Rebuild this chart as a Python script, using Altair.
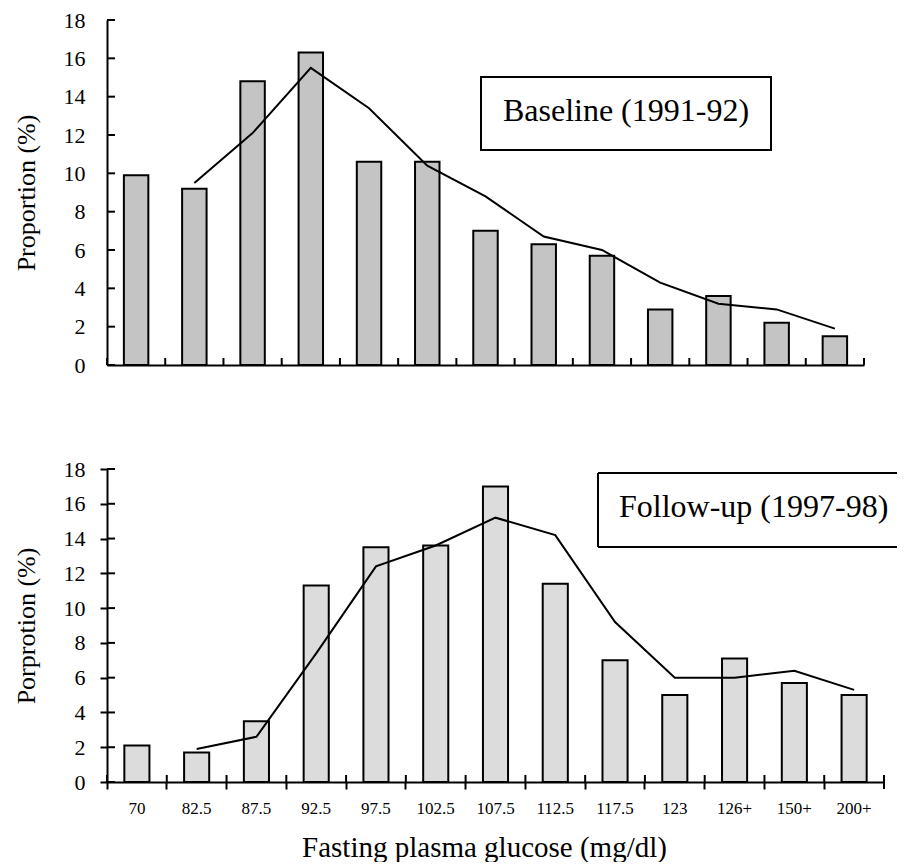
import altair as alt
import pandas as pd

# ---- data ----
categories = ["70", "82.5", "87.5", "92.5", "97.5", "102.5", "107.5",
              "112.5", "117.5", "123", "126+", "150+", "200+"]
baseline = [9.9, 9.2, 14.8, 16.3, 10.6, 10.6, 7.0, 6.3, 5.7, 2.9, 3.6, 2.2, 1.5]
baseline_trend = [9.5, 12.1, 15.5, 13.4, 10.4, 8.8, 6.7, 6.0, 4.3, 3.2, 2.9, 1.9]
followup = [2.1, 1.7, 3.5, 11.3, 13.5, 13.6, 17.0, 11.4, 7.0, 5.0, 7.1, 5.7, 5.0]
followup_trend = [1.9, 2.6, 7.4, 12.4, 13.6, 15.2, 14.2, 9.2, 6.0, 6.0, 6.4, 5.3]
y_ticks = [0, 2, 4, 6, 8, 10, 12, 14, 16, 18]
top_label = "Baseline (1991-92)"
bottom_label = "Follow-up (1997-98)"
x_title = "Fasting plasma glucose (mg/dl)"

FONT = "Liberation Serif"

base_df = pd.DataFrame({"cat": categories, "val": baseline})
base_tr = pd.DataFrame({"cat": categories[1:], "val": baseline_trend})
fol_df = pd.DataFrame({"cat": categories, "val": followup})
fol_tr = pd.DataFrame({"cat": categories[1:], "val": followup_trend})
ytick_df = pd.DataFrame({"val": y_ticks})
last_df = pd.DataFrame({"cat": [categories[-1]]})

xscale = alt.Scale(domain=categories, paddingInner=0, paddingOuter=0)
yscale = alt.Scale(domain=[0, 18], nice=False)


def y_axis(title, ticks):
    return alt.Axis(title=title, values=y_ticks, grid=False, ticks=ticks, tickSize=7,
                    labelPadding=15 if ticks else 22, titlePadding=24, labelFontSize=22,
                    titleFontSize=26, titleFontWeight="normal", labelOverlap=False,
                    labelFont=FONT, titleFont=FONT)


def x_axis(show_labels):
    if show_labels:
        return alt.Axis(title=x_title, bandPosition=0, tickSize=7, labelAngle=0,
                        labelPadding=11, labelFontSize=17, titleFontSize=29,
                        titleFontWeight="normal", titlePadding=17, titleX=377,
                        labelFont=FONT, titleFont=FONT, labelOverlap=False)
    return alt.Axis(title=None, labels=False, ticks=False)


def panel(df, tr, fill, ytitle, bottom, h):
    xa = x_axis(bottom)
    ya = y_axis(ytitle, bottom)

    def X(**kw):
        return alt.X("cat:N", sort=categories, scale=xscale, axis=xa, **kw)

    def Y():
        return alt.Y("val:Q", scale=yscale, axis=ya)

    bars = alt.Chart(df).mark_bar(
        width=alt.RelativeBandSize(0.42), fill=fill, stroke="black", strokeWidth=2
    ).encode(x=X(), y=Y())
    line = alt.Chart(tr).mark_line(color="black", strokeWidth=2).encode(x=X(), y=Y())
    # inward tick marks (reference ticks point into / cross the plot)
    yt = alt.Chart(ytick_df).mark_rule(color="black", strokeWidth=2).encode(
        y=Y(), x=alt.value(0), x2=alt.value(8))
    xt = alt.Chart(df).mark_rule(color="black", strokeWidth=2).encode(
        x=X(bandPosition=0), y=alt.value(h), y2=alt.value(h - 7))
    xe = alt.Chart(last_df).mark_rule(color="black", strokeWidth=2).encode(
        x=X(bandPosition=1), y=alt.value(h + 7 if bottom else h), y2=alt.value(h - 7))
    return [bars, line, yt, xt, xe]


top_layers = panel(base_df, base_tr, "#c4c4c4", "Proportion (%)", False, 345)
bot_layers = panel(fol_df, fol_tr, "#dcdcdc", "Porprotion (%)", True, 313)

tl = alt.Data(values=[{"label": top_label}])
top_box = alt.Chart(tl).mark_rect(
    fill="white", stroke="black", strokeWidth=2
).encode(x=alt.value(374), x2=alt.value(664), y=alt.value(57), y2=alt.value(130))
top_text = alt.Chart(tl).mark_text(
    font=FONT, fontSize=32, align="center", baseline="middle", color="black"
).encode(x=alt.value(519), y=alt.value(91), text="label:N")

bl = alt.Data(values=[{"label": bottom_label}])
bot_top = alt.Chart(bl).mark_rule(color="black", strokeWidth=2).encode(
    x=alt.value(491), x2=alt.value(790), y=alt.value(4))
bot_bottom = alt.Chart(bl).mark_rule(color="black", strokeWidth=2).encode(
    x=alt.value(491), x2=alt.value(790), y=alt.value(78))
bot_left = alt.Chart(bl).mark_rule(color="black", strokeWidth=2).encode(
    x=alt.value(491), y=alt.value(4), y2=alt.value(78))
bot_text = alt.Chart(bl).mark_text(
    font=FONT, fontSize=32, align="left", baseline="middle", color="black"
).encode(x=alt.value(512), y=alt.value(38), text="label:N")

top = alt.layer(*top_layers, top_box, top_text).properties(width=757, height=345)
bottom = alt.layer(*bot_layers, bot_top, bot_bottom, bot_left, bot_text).properties(
    width=777, height=313)

chart = alt.vconcat(top, bottom, spacing=82).properties(
    padding={"left": 5, "top": 1, "right": 0, "bottom": 0},
    background="white",
).configure_view(stroke=None).configure_axis(
    domainColor="black", domainWidth=2, tickColor="black", tickWidth=2,
    labelColor="black", titleColor="black", labelFont=FONT, titleFont=FONT,
    labelOverlap=False
)

chart.save("out.html", embed_options={"renderer": "svg", "actions": False})
